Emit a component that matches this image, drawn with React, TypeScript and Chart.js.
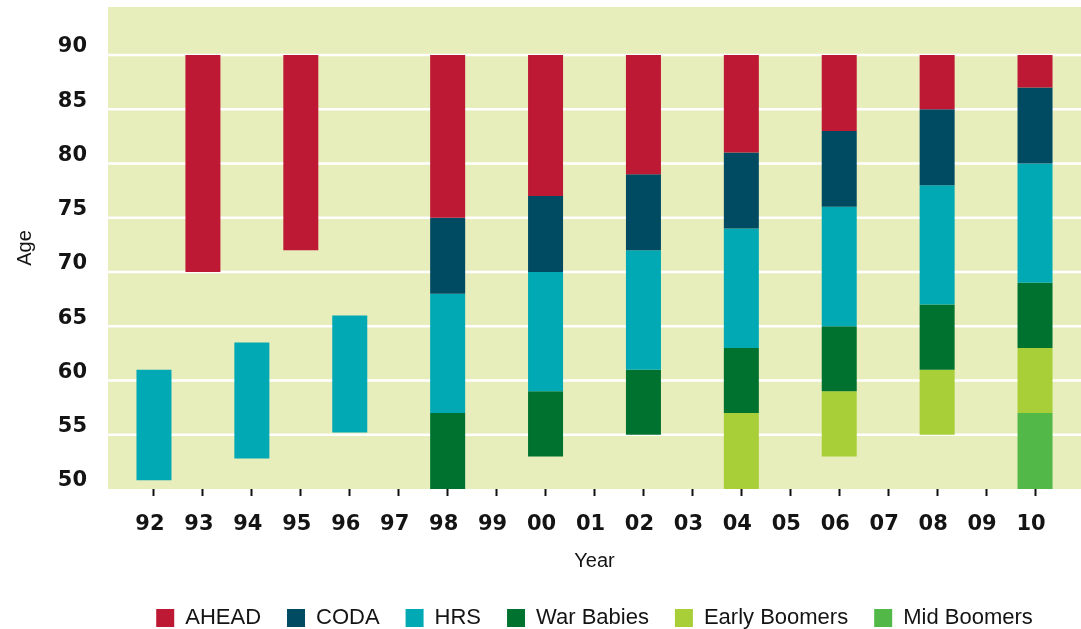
import React, { useEffect, useRef } from 'react';
import { Chart, registerables } from 'chart.js';

Chart.register(...registerables);

// Survey years (x categories)
const years = ['92', '93', '94', '95', '96', '97', '98', '99', '00', '01', '02', '03', '04', '05', '06', '07', '08', '09', '10'];

// Age ranges [low, high] per cohort and year (null = not interviewed)
const aheadAges = [null, [70, 90], null, [72, 90], null, null, [75, 90], null, [77, 90], null, [79, 90], null, [81, 90], null, [83, 90], null, [85, 90], null, [87, 90]];
const codaAges = [null, null, null, null, null, null, [68, 75], null, [70, 77], null, [72, 79], null, [74, 81], null, [76, 83], null, [78, 85], null, [80, 87]];
const hrsAges = [[50.8, 61], null, [52.8, 63.5], null, [55.2, 66], null, [57, 68], null, [59, 70], null, [61, 72], null, [63, 74], null, [65, 76], null, [67, 78], null, [69, 80]];
const warBabiesAges = [null, null, null, null, null, null, [50, 57], null, [53, 59], null, [55, 61], null, [57, 63], null, [59, 65], null, [61, 67], null, [63, 69]];
const earlyBoomersAges = [null, null, null, null, null, null, null, null, null, null, null, null, [50, 57], null, [53, 59], null, [55, 61], null, [57, 63]];
const midBoomersAges = [null, null, null, null, null, null, null, null, null, null, null, null, null, null, null, null, null, null, [50, 57]];

// Y axis ticks
const yTickValues = [50, 55, 60, 65, 70, 75, 80, 85, 90];

const BG = '#E7EDBB';
const TEXT = '#141414';

const plotBackground = {
  id: 'plotBackground',
  beforeDraw(chart: any) {
    const { ctx, chartArea, scales } = chart;
    const left = chartArea.left - 21.5;
    const right = chart.width;
    ctx.save();
    ctx.fillStyle = BG;
    ctx.fillRect(left, chartArea.top, right - left, chartArea.bottom - chartArea.top);
    ctx.strokeStyle = '#ffffff';
    ctx.lineWidth = 2.5;
    scales.y.ticks.forEach((t: any) => {
      if (t.value <= scales.y.min) return;
      const y = scales.y.getPixelForValue(t.value);
      ctx.beginPath();
      ctx.moveTo(left, y);
      ctx.lineTo(right, y);
      ctx.stroke();
    });
    ctx.restore();
  },
};

const tickFont = { family: 'DejaVu Sans', weight: 'bold' as const, size: 21 };
const textFont = { family: 'Liberation Sans', size: 20 };

function mk(label: string, data: any[], color: string) {
  return {
    label,
    data,
    backgroundColor: color,
    borderWidth: 0,
    grouped: false,
    barPercentage: 0.715,
    categoryPercentage: 1,
  };
}

export default function App() {
  const ref = useRef<HTMLCanvasElement>(null);
  useEffect(() => {
    if (!ref.current) return;
    const chart = new Chart(ref.current, {
      type: 'bar',
      data: {
        labels: years,
        datasets: [
          mk('AHEAD', aheadAges, '#BE1934'),
          mk('CODA', codaAges, '#004A62'),
          mk('HRS', hrsAges, '#00A9B4'),
          mk('War Babies', warBabiesAges, '#00722F'),
          mk('Early Boomers', earlyBoomersAges, '#A8CF38'),
          mk('Mid Boomers', midBoomersAges, '#52B848'),
        ] as any,
      },
      options: {
        responsive: false,
        animation: false,
        layout: { padding: { top: 7, right: 21.5, bottom: -10, left: 0 } },
        plugins: {
          tooltip: { enabled: false },
          legend: {
            position: 'bottom',
            fullSize: false,
            labels: {
              boxWidth: 18,
              boxHeight: 18,
              padding: 26,
              color: TEXT,
              font: { family: 'Liberation Sans', size: 22 },
            },
          },
        },
        scales: {
          x: {
            offset: true,
            grid: {
              display: true,
              drawOnChartArea: false,
              drawTicks: true,
              tickLength: 7,
              tickWidth: 2,
              tickColor: '#111',
              offset: false,
            },
            border: { display: false },
            ticks: { color: TEXT, font: tickFont, padding: 16, labelOffset: -4, maxRotation: 0, autoSkip: false },
            title: { display: true, text: 'Year', color: TEXT, font: textFont, padding: { top: 15, bottom: 8 } },
            afterFit: (s: any) => { s.height = 92; },
          },
          y: {
            min: 50,
            max: 94.42,
            grid: { display: false, drawTicks: false },
            border: { display: false },
            afterBuildTicks: (s: any) => { s.ticks = yTickValues.map((v) => ({ value: v })); },
            ticks: { color: TEXT, font: tickFont, padding: 42.5, labelOffset: -8 },
            title: { display: true, text: 'Age', color: TEXT, font: textFont, padding: { top: 13, bottom: 0 } },
            afterFit: (s: any) => { s.width = 129.5; s.paddingTop = 0; s.paddingBottom = 0; },
          },
        },
      } as any,
      plugins: [plotBackground],
    });
    return () => chart.destroy();
  }, []);
  return (
    <div style={{ position: 'absolute', left: 0, top: 0, width: 1081, height: 629, background: '#fff' }}>
      <canvas ref={ref} width={1081} height={629} style={{ display: 'block' }} />
    </div>
  );
}
